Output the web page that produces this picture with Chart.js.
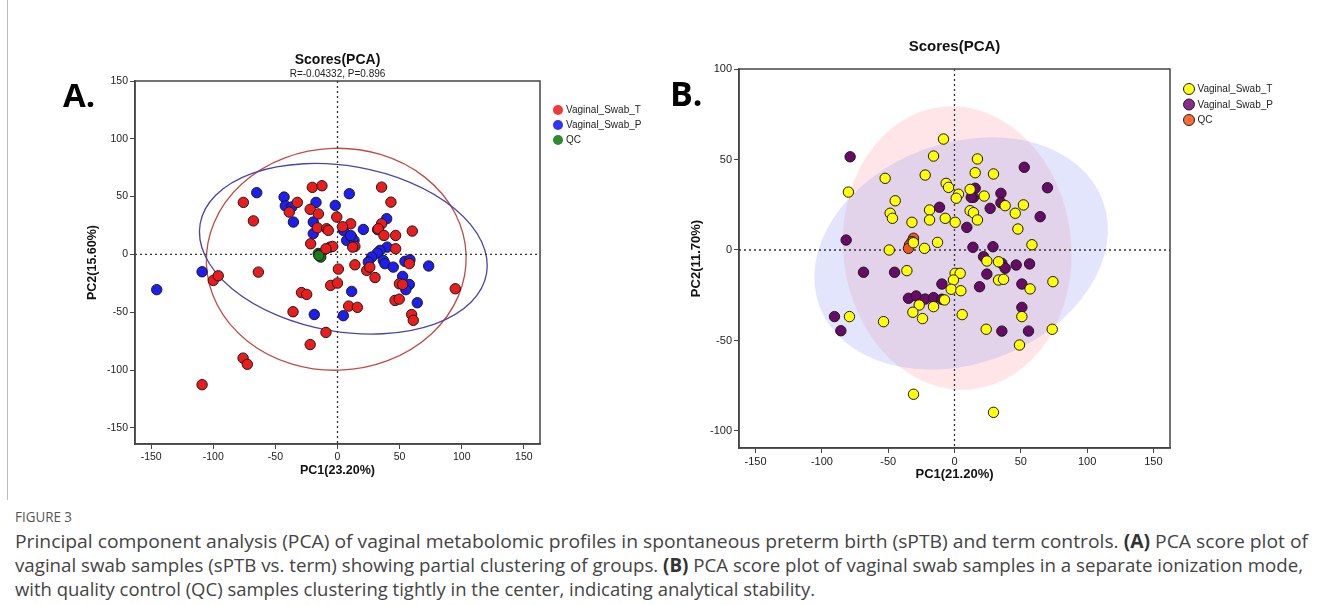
<!DOCTYPE html>
<html><head><meta charset="utf-8">
<script src="https://cdn.jsdelivr.net/npm/chart.js@4.4.0/dist/chart.umd.min.js"></script>
<style>
html,body{margin:0;padding:0;background:#fff;width:1328px;height:605px;overflow:hidden;}
#wrap{position:relative;width:1328px;height:605px;}
.pane{position:absolute;top:0;width:664px;height:500px;}
#frame{position:absolute;left:7px;top:0;width:0;height:500px;border-left:1px solid #bbb;}
.cap{position:absolute;left:15px;white-space:nowrap;font-family:"Open Sans","Noto Sans",sans-serif;color:#444;transform-origin:0 0;}
#fig{top:509px;font-size:14px;line-height:16px;color:#555;}
.ln{font-size:19px;line-height:24px;}
.ln b{color:#333;}
</style></head><body>
<div id="wrap">
<div id="frame"></div>
<div class="pane" style="left:0"><canvas id="ca" width="664" height="500"></canvas></div>
<div class="pane" style="left:664px"><canvas id="cb" width="664" height="500"></canvas></div>
<div class="cap" id="fig">FIGURE 3</div>
<div class="cap ln" id="l1" style="top:529px" data-w="1293">Principal component analysis (PCA) of vaginal metabolomic profiles in spontaneous preterm birth (sPTB) and term controls. <b>(A)</b> PCA score plot of</div>
<div class="cap ln" id="l2" style="top:553px" data-w="1288">vaginal swab samples (sPTB vs. term) showing partial clustering of groups. <b>(B)</b> PCA score plot of vaginal swab samples in a separate ionization mode,</div>
<div class="cap ln" id="l3" style="top:577px" data-w="800">with quality control (QC) samples clustering tightly in the center, indicating analytical stability.</div>
</div>
<script>
// ---------- Panel A data ----------
const aLabels = ['Vaginal_Swab_T', 'Vaginal_Swab_P', 'QC'];
const aTerm = [[-75.8,45],[-67.7,29],[-38.8,36.6],[-32.3,45],[-20.3,58],[-12.5,59.4],[-22,39],[-15.4,35],
  [-21.6,9.2],[-16.2,23],[-8.7,22.2],[-7.4,20.8],[-6,6.3],[-3.9,6.9],[-9.3,4.9],[-0.6,32.3],[10.6,26.5],[4,24],
  [14,6.9],[12.2,6.3],[35.5,58.2],[43,45.2],[35.5,26.5],[32.8,22.2],[37.4,16.4],[46.8,16.4],[60.2,20.2],[46.8,4.9],
  [0.7,-12.7],[14,-9],[-5.5,-26.8],[0,-24.8],[23.5,-13.8],[26,-11],[30.2,-20],[57.8,-8],[49.8,-25.4],[52.4,-26],
  [46.3,-39.8],[49.7,-38.7],[59.7,-52],[61,-57],[94.8,-29.7],[9,-44.7],[16,-45.8],[-9.3,-67.5],[-22,-78],[-29,-33],
  [-24.8,-34.6],[-35.8,-49.6],[-76,-89.7],[-72.6,-95],[-109,-112.7],[-100,-22.5],[-96,-18.5],[-63.7,-15.3]];
const aPreterm = [[-65,53.4],[-43,49.6],[-42,42],[-36.8,41],[-35.5,28],[-17.3,45],[-19.5,28],[-19.5,18],[-1.8,42.4],
  [9.5,52.5],[4.7,20.8],[7.4,12.1],[11.4,15],[13.3,12.1],[10.6,16.4],[20.8,21.6],[39.6,30.9],[32.3,21.4],[40,6.3],
  [34.2,3.5],[32,1.1],[27.5,-2.3],[24.8,-6.6],[36.9,-5.2],[38.2,-8],[44.9,-11],[54.3,-6],[58.3,-4.6],[73.4,-10],
  [52.4,-19],[57.8,-26],[55,-30.5],[64.2,-41.8],[11.4,-32],[4.7,-53],[-18.7,-52],[-109,-15],[-145.5,-30.5]];
const aQC = [[-15.5,0.8],[-14.6,0],[-13.5,-2.3],[-15,-1]];
const aXTicks = [-150,-100,-50,0,50,100,150];
const aYTicks = [-150,-100,-50,0,50,100,150];

// ---------- Panel B data ----------
const bLabels = ['Vaginal_Swab_T', 'Vaginal_Swab_P', 'QC'];
const bTerm = [[-8.3,61.3],[-15.8,51.9],[17.3,50.3],[-52.3,39.6],[-22.1,41.4],[15.6,42.7],[29.4,42],[-80,32],
  [-6.3,36.8],[-4.5,34.6],[3,30.8],[1.3,28.6],[11.8,33.5],[22.4,29.8],[-44.7,27.2],[-48.5,20.3],[-46.8,17.5],
  [-18.8,22.1],[-7,17.5],[0.5,15.3],[-18.8,16.6],[-32.1,15.3],[11.8,21.7],[14.3,20.6],[17.3,16.6],[38.2,24.5],
  [45.8,20.3],[52,24.9],[47.8,11.6],[58.4,2.9],[74.2,-17.5],[-12.8,4.2],[-22.6,0.9],[-49.2,0],[-35.9,-11.4],
  [24.4,-6.1],[33.2,-6.5],[0.5,-12.9],[4.3,-12.9],[-0.8,-16.6],[33.2,-16.6],[37,-16.2],[57,-21.5],[-2.5,-21.7],
  [4.8,-22.5],[-7.5,-27.6],[-26.6,-30.4],[-15.8,-31.3],[-31.4,-34.4],[-24.1,-37.9],[-79.2,-36.8],[-53.5,-39.6],
  [5.8,-35.7],[50.8,-36.8],[23.9,-43.8],[73.7,-43.8],[49,-52.5],[-30.9,-79.7],[29.4,-89.7],[-31,4]];
const bPreterm = [[-78.7,51.5],[52.6,45.7],[70.1,34.4],[15.6,34.1],[14.3,29.1],[12.6,29.1],[35,31.3],[35,26.1],
  [26.9,23],[-11.3,23.6],[64.6,18.4],[9.3,12.5],[-81.7,5.5],[13.9,1.5],[29,1.8],[21.9,-3.7],[35.7,-7.4],[38.2,-10.1],
  [46.5,-8.3],[56.6,-7.7],[24.4,-13.3],[-68.6,-12.3],[-45.2,-12.3],[-9.5,-18.8],[18.9,-20.3],[50.8,-18.8],
  [-34.7,-26.7],[-28.9,-25.4],[-22.1,-27.1],[-15.8,-26.3],[-9.5,-27.2],[-90.5,-36.8],[-85.7,-44.6],[50.8,-31.7],
  [35.7,-44.8],[55.8,-44.8]];
const bQC = [[-30.9,6.5],[-32.1,4.6],[-33.9,2.8],[-34.7,0.9]];
const bXTicks = [-150,-100,-50,0,50,100,150];
const bYTicks = [-100,-50,0,50,100];

const FONT = '"Liberation Sans", Arial, sans-serif';

// decoration settings per canvas (kept out of Chart.js option resolver)
const decorCfg = {
  ca: {
    ellipses: [
      {cx: -1, cy: -4.2, rx: 104.6, ry: 96, rot: -2, stroke: '#c24a4a'},
      {cx: 4.7, cy: 4.9, rx: 117, ry: 71.6, rot: 9.9, stroke: '#4747a8'}
    ],
    title: 'Scores(PCA)', titleSize: 14, titleY: 60, subtitle: 'R=-0.04332, P=0.896', subY: 74,
    letter: 'A.', letterSize: 33, letterX: 63, letterY: 98,
    legDX: 18, legDY: 29, legStep: 15, legR: 5, legBorder: false,
    legColors: ['#f03a3a', '#3434f5', '#2e8b2e']
  },
  cb: {
    ellipses: [
      {cx: 2, cy: 1.1, rx: 86, ry: 78.5, rot: -6, fill: 'rgba(255,160,170,0.28)'},
      {cx: 5, cy: -1.9, rx: 114, ry: 61, rot: -20.5, fill: 'rgba(150,160,245,0.28)'}
    ],
    title: 'Scores(PCA)', titleSize: 15, titleY: 47, subtitle: null,
    letter: 'B.', letterSize: 34, letterX: 6, letterY: 96,
    legDX: 19, legDY: 20, legStep: 15.5, legR: 5.5, legBorder: true,
    legColors: ['#ffff1a', '#8a2a8a', '#ff6a33']
  }
};

const decor = {
  id: 'decor',
  beforeDatasetsDraw(chart) {
    const o = decorCfg[chart.canvas.id];
    const {ctx, chartArea: ca, scales: {x, y}} = chart;
    ctx.save();
    ctx.beginPath(); ctx.rect(ca.left, ca.top, ca.width, ca.height); ctx.clip();
    for (const e of o.ellipses) {
      const cx = x.getPixelForValue(e.cx), cy = y.getPixelForValue(e.cy);
      const rx = Math.abs(x.getPixelForValue(e.cx + e.rx) - cx);
      const ry = Math.abs(y.getPixelForValue(e.cy + e.ry) - cy);
      ctx.beginPath(); ctx.ellipse(cx, cy, rx, ry, e.rot * Math.PI / 180, 0, 2 * Math.PI);
      if (e.fill) { ctx.fillStyle = e.fill; ctx.fill(); }
      if (e.stroke) { ctx.strokeStyle = e.stroke; ctx.lineWidth = 1.3; ctx.stroke(); }
    }
    const x0 = x.getPixelForValue(0), y0 = y.getPixelForValue(0);
    ctx.setLineDash([2, 3]); ctx.strokeStyle = '#333'; ctx.lineWidth = 1.3;
    ctx.beginPath();
    ctx.moveTo(x0, ca.top); ctx.lineTo(x0, ca.bottom);
    ctx.moveTo(ca.left, y0); ctx.lineTo(ca.right, y0);
    ctx.stroke();
    ctx.restore();
  },
  afterDraw(chart) {
    const o = decorCfg[chart.canvas.id];
    const {ctx, chartArea: ca} = chart;
    ctx.save();
    ctx.strokeStyle = '#444'; ctx.lineWidth = 1.5;
    ctx.strokeRect(ca.left, ca.top, ca.width, ca.height);
    const mid = (ca.left + ca.right) / 2;
    ctx.fillStyle = '#111'; ctx.textAlign = 'center'; ctx.textBaseline = 'middle';
    ctx.font = 'bold ' + o.titleSize + 'px ' + FONT;
    ctx.fillText(o.title, mid, o.titleY);
    if (o.subtitle) { ctx.font = '10px ' + FONT; ctx.fillStyle = '#222'; ctx.fillText(o.subtitle, mid, o.subY); }
    ctx.fillStyle = '#000'; ctx.textAlign = 'left';
    ctx.font = 'bold ' + o.letterSize + 'px "Open Sans", ' + FONT;
    ctx.fillText(o.letter, o.letterX, o.letterY);
    chart.data.datasets.forEach((ds, i) => {
      const lx = ca.right + o.legDX, ly = ca.top + o.legDY + i * o.legStep;
      ctx.beginPath(); ctx.arc(lx, ly, o.legR, 0, 2 * Math.PI);
      ctx.fillStyle = o.legColors[i]; ctx.fill();
      if (o.legBorder) { ctx.strokeStyle = '#222'; ctx.lineWidth = 1; ctx.stroke(); }
      ctx.fillStyle = '#222'; ctx.font = '10px ' + FONT; ctx.textBaseline = 'middle';
      ctx.fillText(ds.label, lx + o.legR + 3, ly + 0.5);
    });
    ctx.restore();
  }
};

function axis(ticks, min, max, title, titleSize, tickSize, fitKey, fitVal) {
  return {
    type: 'linear', min, max,
    afterBuildTicks: s => { s.ticks = ticks.map(v => ({value: v})); },
    afterFit: s => { s[fitKey] = fitVal; },
    ticks: {autoSkip: false, maxRotation: 0, font: {size: tickSize, family: FONT}, color: '#222', padding: 2},
    grid: {display: true, drawOnChartArea: false, drawTicks: true, tickLength: 5, color: '#444'},
    border: {display: true, color: '#444', width: 1.5},
    title: {display: true, text: title, color: '#111', padding: 0, font: {size: titleSize, weight: 'bold', family: FONT}}
  };
}

function ds(label, pts, color) {
  return {label, data: pts.map(p => ({x: p[0], y: p[1]})), backgroundColor: color, borderColor: '#1a1a1a',
    borderWidth: 1, pointRadius: 5.2, pointHoverRadius: 5.2};
}

new Chart(document.getElementById('ca'), {
  type: 'scatter',
  data: {datasets: [ds(aLabels[0], aTerm, '#ec1c1c'), ds(aLabels[1], aPreterm, '#1e1ef0'), ds(aLabels[2], aQC, '#1d7a1d')]},
  options: {
    responsive: false, animation: false, events: [],
    layout: {padding: {left: 85, top: 81, right: 124, bottom: 22}},
    plugins: {legend: {display: false}, tooltip: {enabled: false}},
    scales: {
      x: axis(aXTicks, -163, 163, 'PC1(23.20%)', 12.5, 10.5, 'height', 34),
      y: axis(aYTicks, -164, 150, 'PC2(15.60%)', 12.5, 10.5, 'width', 50)
    }
  },
  plugins: [decor]
});

new Chart(document.getElementById('cb'), {
  type: 'scatter',
  data: {datasets: [ds(bLabels[0], bTerm, '#ffff00'), ds(bLabels[1], bPreterm, '#680a68'), ds(bLabels[2], bQC, '#f0561e')]},
  options: {
    responsive: false, animation: false, events: [],
    layout: {padding: {left: 25, top: 69, right: 158, bottom: 18}},
    plugins: {legend: {display: false}, tooltip: {enabled: false}},
    scales: {
      x: axis(bXTicks, -162.5, 162.5, 'PC1(21.20%)', 13, 11, 'height', 34),
      y: axis(bYTicks, -109.4, 100, 'PC2(11.70%)', 13, 11, 'width', 50)
    }
  },
  plugins: [decor]
});

// fit each caption line to the width it has in the reference
(function () {
  ['l1', 'l2', 'l3'].forEach(id => {
    const el = document.getElementById(id);
    const w = el.getBoundingClientRect().width;
    el.style.transform = 'scaleX(' + (Number(el.dataset.w) / w) + ')';
  });
  const f = document.getElementById('fig');
  f.style.transform = 'scaleX(' + (57 / f.getBoundingClientRect().width) + ')';
})();
</script>
</body></html>
